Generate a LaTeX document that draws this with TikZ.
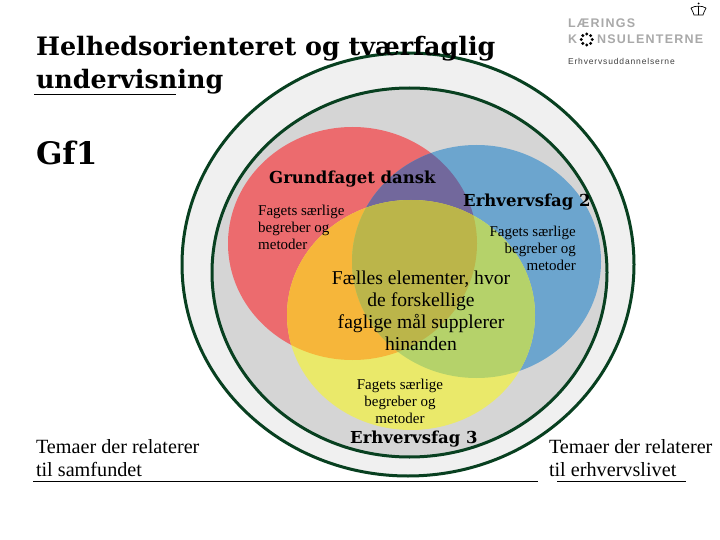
\documentclass[tikz,border=0pt]{standalone}
\usepackage{fontspec}
\setmainfont{Liberation Serif}
\newfontfamily\titlefont{DejaVu Serif}
\newfontfamily\logofont[LetterSpace=10]{Liberation Sans}
\newfontfamily\logosmall[LetterSpace=10]{Liberation Sans}
\usetikzlibrary{positioning}
\definecolor{ringgreen}{HTML}{084020}
\definecolor{ringfill}{HTML}{F0F0F0}
\definecolor{innerfill}{HTML}{D5D5D5}
\definecolor{redset}{HTML}{EC6B6E}
\definecolor{blueset}{HTML}{6CA5CE}
\definecolor{yellowset}{HTML}{EAE96A}
\definecolor{redblue}{HTML}{72689C}
\definecolor{redyellow}{HTML}{F6B63A}
\definecolor{blueyellow}{HTML}{B5D26A}
\definecolor{allsets}{HTML}{BBB54A}
\definecolor{logogray}{HTML}{A9A9A9}
\def\redpath{(352.5,243.5) ellipse [x radius=124.5, y radius=116.5]}
\def\bluepath{(476.5,261.5) ellipse [x radius=124.5, y radius=116.5]}
\def\yellowpath{(411,315) ellipse [x radius=124, y radius=115]}

\begin{document}
\begin{tikzpicture}[
    x=1pt, y=-1pt,
    ring/.style={draw=ringgreen, line width=3pt},
    base/.style={inner sep=0pt, outer sep=0pt, anchor=base west},
    title/.style={base, font=\titlefont\bfseries\fontsize{25.4}{33}\selectfont, align=left},
    heading/.style={inner sep=0pt, anchor=base west, font=\titlefont\bfseries\fontsize{16.5}{20}\selectfont},
    small/.style={inner sep=0pt, font=\fontsize{15}{16.8}\selectfont},
    theme/.style={base, font=\fontsize{20.2}{23}\selectfont, align=left},
    rulebar/.style={draw=black, line width=0.8pt}
]
\useasboundingbox (0,0) rectangle (720,540);
\fill[white] (0,0) rectangle (720,540);

% Rings
\path[ring, fill=ringfill] (408,264.5) ellipse [x radius=226, y radius=211.5];
\path[ring, fill=innerfill] (409.5,272.5) ellipse [x radius=197.5, y radius=184.5];

% Sets
\fill[redset] \redpath;
\fill[blueset] \bluepath;
\fill[yellowset] \yellowpath;

% Overlaps
\begin{scope}
  \clip \redpath;
  \fill[redblue] \bluepath;
  \fill[redyellow] \yellowpath;
\end{scope}
\begin{scope}
  \clip \bluepath;
  \fill[blueyellow] \yellowpath;
\end{scope}
\begin{scope}
  \clip \redpath;
  \clip \bluepath;
  \fill[allsets] \yellowpath;
\end{scope}

% Title
\node[title] (head) at (36,89) {Helhedsorienteret og tværfaglig\\undervisning};
\draw[rulebar] (34,94.5) -- (176,94.5);
\node[base, font=\titlefont\bfseries\fontsize{31}{36}\selectfont] (gf) at (36,165) {Gf1};

% Labels
\node[heading] (dansk) at (269,184) {Grundfaget dansk};
\node[heading] (fagtwo) at (463,207) {Erhvervsfag 2};
\node[heading] (fagthree) at (350,443) {Erhvervsfag 3};
\node[small, align=left, anchor=north west] (redtext) at (258,205) {Fagets særlige\\begreber og\\metoder};
\node[small, align=right, anchor=north east] (bluetext) at (576,226) {Fagets særlige\\begreber og\\metoder};
\node[small, align=center, anchor=north] (yellowtext) at (400,379) {Fagets særlige\\begreber og\\metoder};
\node[inner sep=0pt, font=\fontsize{19.6}{22}\selectfont, align=center, anchor=north] (shared) at (421,271) {Fælles elementer, hvor\\de forskellige\\faglige mål supplerer\\hinanden};

% Bottom
\node[theme] (samfund) at (36,476) {Temaer der relaterer\\til samfundet};
\node[theme] (erhverv) at (549,476) {Temaer der relaterer\\til erhvervslivet};
\draw[rulebar] (33,481) -- (538,481);
\draw[rulebar] (557,481) -- (686,481);

% Logo
\node[base, text=logogray, font=\logofont\bfseries\fontsize{12.5}{14}\selectfont] (laerings) at (568,28) {LÆRINGS};
\node[base, text=logogray, font=\logofont\bfseries\fontsize{12.5}{14}\selectfont] (logok) at (568,44) {K};
\node[base, text=logogray, font=\logofont\bfseries\fontsize{12.5}{14}\selectfont] (logorest) at (597,44) {NSULENTERNE};
\foreach \a in {0,45,...,315}
  \fill[black] ({586.7+5.5*cos(\a)},{39.5+5.5*sin(\a)}) circle [radius=1.7];
\node[base, text=black!75, font=\logosmall\fontsize{8.5}{10}\selectfont] (logosub) at (568,65) {Erhvervsuddannelserne};

% Crown
\draw[black, line width=0.7pt] (691,8) .. controls (693,11) and (693,13) .. (694,15) -- (703,15) .. controls (704,13) and (704,11) .. (706,8);
\draw[black, line width=0.7pt] (691,8) .. controls (695,5.5) and (702,5.5) .. (706,8);
\draw[black, line width=0.7pt] (698.5,6) -- (698.5,15);
\fill[black] (698.5,3.5) circle [radius=1];
\end{tikzpicture}
\end{document}
